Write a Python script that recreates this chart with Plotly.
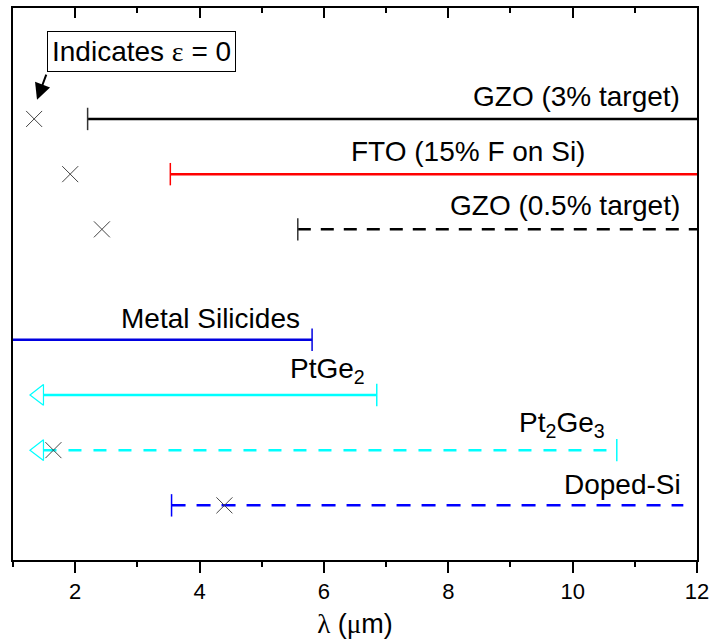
import plotly.graph_objects as go

# ---------------- data ----------------
materials = ["GZO (3% target)", "FTO (15% F on Si)", "GZO (0.5% target)",
             "Metal Silicides", "PtGe<sub>2</sub>", "Pt<sub>2</sub>Ge<sub>3</sub>", "Doped-Si"]
row_pos = [7, 6, 5, 3, 2, 1, 0]
lam_start = [2.20, 3.53, 5.58, 1.00, 1.49, 1.49, 3.55]
lam_end = [12.0, 12.0, 12.0, 5.81, 6.85, 10.71, 11.78]
eps_zero = [1.34, 1.92, 2.43, None, None, 1.65, 4.40]
x_ticks = [2, 4, 6, 8, 10, 12]

# ---------------- styles ----------------
colors = ["#000000", "#FF0000", "#000000", "#0000E0", "#00FFFF", "#00FFFF", "#0000FF"]
dashes = ["solid", "solid", "13px,10px", "solid", "solid", "13px,12px", "14px,11px"]
cap_side = ["start", "start", "start", "end", "end", "end", "start"]
arrow_left = [False, False, False, False, True, True, False]
label_right = [11.76, 10.23, 11.76, 5.645, 6.70, 10.55, 11.78]
label_shift = [22, 23, 24, 21, 24, 26, 21]

FONT = "Liberation Sans, Arial, sans-serif"
SERIF = "Liberation Serif, Times New Roman, serif"

fig = go.Figure()
px_per_unit = (697 - 13) / 11.0

for i, name in enumerate(materials):
    y = row_pos[i]
    fig.add_trace(go.Scatter(x=[lam_start[i], lam_end[i]], y=[y, y], mode="lines",
                             line=dict(color=colors[i], width=2.5, dash=dashes[i]),
                             hoverinfo="skip", showlegend=False))
    capx = lam_start[i] if cap_side[i] == "start" else lam_end[i]
    capc = "#333333" if colors[i] == "#000000" else colors[i]
    fig.add_trace(go.Scatter(x=[capx], y=[y], mode="markers",
                             marker=dict(symbol="line-ns", size=16, color=capc,
                                         line=dict(color=capc, width=1.5)),
                             hoverinfo="skip", showlegend=False))
    if arrow_left[i]:
        fig.add_trace(go.Scatter(x=[lam_start[i] - 4.5 / px_per_unit], y=[y], mode="markers",
                                 marker=dict(symbol="triangle-left-open", size=18, color=colors[i],
                                             line=dict(color=colors[i], width=1.2)),
                                 hoverinfo="skip", showlegend=False))
    if eps_zero[i] is not None:
        fig.add_trace(go.Scatter(x=[eps_zero[i]], y=[y], mode="markers",
                                 marker=dict(symbol="x-thin-open", size=16, color="#444444",
                                             line=dict(color="#444444", width=1)),
                                 hoverinfo="skip", showlegend=False))
    fig.add_annotation(x=label_right[i], y=y, text=name, showarrow=False,
                       xanchor="right", yanchor="middle", yshift=label_shift[i],
                       font=dict(family=FONT, size=28, color="#000000"))

# "Indicates eps = 0" box
fig.add_annotation(x=3.07, y=8.23, xref="x", yref="y",
                   text='Indicates <span style="font-family:%s">ε</span> = 0' % SERIF,
                   showarrow=False, xanchor="center", yanchor="middle",
                   font=dict(family=FONT, size=28, color="#000000"),
                   bgcolor="#FFFFFF", bordercolor="#000000", borderwidth=1, borderpad=4)
# arrow
fig.add_annotation(x=1.386, y=7.35, xref="x", yref="y", text=" ",
                   showarrow=True, ax=10, ay=-27, arrowhead=2, arrowsize=1.6,
                   arrowwidth=2, arrowcolor="#000000", font=dict(size=1))

fig.update_layout(
    width=709, height=643,
    margin=dict(l=13, r=12, t=8, b=83, autoexpand=False),
    paper_bgcolor="#FFFFFF", plot_bgcolor="#FFFFFF",
    font=dict(family=FONT, color="#000000"),
    xaxis=dict(range=[1, 12], tickvals=x_ticks, ticks="outside", ticklen=11, tickwidth=2,
               tickcolor="#000000", showline=True, linewidth=2, linecolor="#000000",
               mirror=True, showgrid=False, zeroline=False, automargin=False,
               ticklabeloverflow="allow",
               minor=dict(dtick=1, tick0=1, ticks="outside", ticklen=5, tickwidth=2,
                          tickcolor="#000000", showgrid=False),
               tickfont=dict(family=FONT, size=22),
               title=dict(text='<span style="font-family:%s">λ</span> (<span style="font-family:%s">μ</span>m)' % (SERIF, SERIF),
                          font=dict(family=FONT, size=27), standoff=11)),
    xaxis2=dict(range=[1, 12], overlaying="x", side="top", tickvals=x_ticks,
                ticks="inside", ticklen=10, tickwidth=2, tickcolor="#000000",
                showticklabels=False, showline=False, showgrid=False, zeroline=False,
                automargin=False,
                minor=dict(dtick=1, tick0=1, ticks="inside", ticklen=5, tickwidth=2,
                           tickcolor="#000000", showgrid=False)),
    yaxis=dict(range=[-0.99, 9.01], showticklabels=False, ticks="", showgrid=False,
               zeroline=False, showline=True, linewidth=2, linecolor="#000000", mirror=True,
               automargin=False),
)
# dummy trace to activate top axis
fig.add_trace(go.Scatter(x=[1], y=[-5], xaxis="x2", mode="markers",
                         marker=dict(opacity=0), hoverinfo="skip", showlegend=False))

fig.write_html("out.html")
